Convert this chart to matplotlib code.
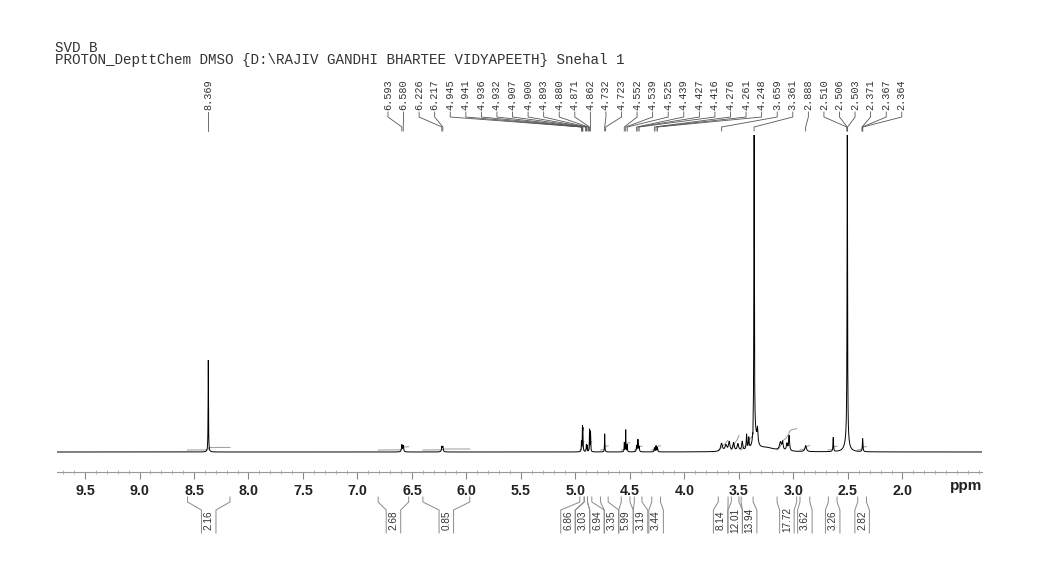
import numpy as np
import matplotlib
matplotlib.use("Agg")
import matplotlib.pyplot as plt
from matplotlib.ticker import MultipleLocator, FormatStrFormatter
from matplotlib.transforms import blended_transform_factory

# ---------------- data ----------------
header_lines = ["SVD B",
                "PROTON_DepttChem DMSO {D:\\RAJIV GANDHI BHARTEE VIDYAPEETH} Snehal 1"]

# peak-pick labels (ppm)
peak_labels = [8.369, 6.593, 6.580, 6.226, 6.217,
               4.945, 4.941, 4.936, 4.932, 4.907, 4.900, 4.893, 4.880, 4.871, 4.862,
               4.732, 4.723, 4.552, 4.539, 4.525, 4.439, 4.427, 4.416,
               4.276, 4.261, 4.248, 3.659, 3.361, 2.888,
               2.510, 2.506, 2.503, 2.371, 2.367, 2.364]

# spectrum lines: position (ppm), intensity, half width (ppm)
line_pos = [8.369, 6.593, 6.580, 6.226, 6.217,
            4.945, 4.936, 4.932, 4.900, 4.893, 4.871, 4.862,
            4.732, 4.552, 4.539, 4.525, 4.439, 4.427, 4.416,
            4.276, 4.261, 4.248,
            3.66, 3.62, 3.59, 3.55, 3.51, 3.47, 3.43, 3.41,
            3.372, 3.361, 3.35, 3.33, 3.25,
            3.12, 3.10, 3.06, 3.04, 2.888, 2.635,
            2.506, 2.51, 2.365]
line_int = [92, 7, 6, 5, 5,
            10, 22, 20, 7, 6, 22, 20,
            18, 9, 22, 7, 6, 12, 5,
            4, 6, 4,
            8, 6, 9, 8, 7, 9, 15, 11,
            -5, 320, 14, 14, 4,
            8, 8, 7, 15, 6, 14,
            320, 12, 13]
line_w = [0.002, 0.004, 0.004, 0.004, 0.004,
          0.002, 0.002, 0.002, 0.002, 0.002, 0.002, 0.002,
          0.002, 0.002, 0.002, 0.002, 0.003, 0.003, 0.003,
          0.003, 0.003, 0.003,
          0.010, 0.010, 0.008, 0.008, 0.008, 0.006, 0.004, 0.004,
          0.001, 0.0025, 0.02, 0.005, 0.10,
          0.010, 0.006, 0.006, 0.005, 0.008, 0.003,
          0.0025, 0.02, 0.003]

# integrals: start ppm, end ppm, value
int_start = [8.56, 6.81, 6.40, 4.96, 4.92, 4.89, 4.77, 4.58, 4.46, 4.30,
             3.69, 3.57, 3.48, 3.15, 2.94, 2.68, 2.41]
int_end   = [8.17, 6.53, 5.97, 4.92, 4.89, 4.85, 4.70, 4.50, 4.39, 4.22,
             3.60, 3.50, 3.37, 2.97, 2.85, 2.60, 2.33]
int_value = [2.16, 2.68, 0.85, 6.86, 3.03, 6.94, 3.35, 5.99, 3.19, 3.44,
             8.14, 12.01, 13.94, 17.72, 3.62, 3.26, 2.82]

major_ticks = [2.0, 2.5, 3.0, 3.5, 4.0, 4.5, 5.0, 5.5, 6.0, 6.5, 7.0, 7.5, 8.0, 8.5, 9.0, 9.5]

# ---------------- figure ----------------
W, H = 1048, 568
fig = plt.figure(figsize=(W / 100, H / 100), dpi=100)

ax_l, ax_r = 57, 982          # px
axis_y, top_y = 472, 135      # px
ppm_left, ppm_right = 9.757, 1.27
ax = fig.add_axes([ax_l / W, (H - axis_y) / H, (ax_r - ax_l) / W, (axis_y - top_y) / H])
ax.set_xlim(ppm_left, ppm_right)
ax.set_ylim(-20, 317)
ax.patch.set_alpha(0)

ppm = np.linspace(9.757, 1.25, 24000)
spec = np.zeros_like(ppm)
for p, a, w in zip(line_pos, line_int, line_w):
    spec += a / (1 + ((ppm - p) / w) ** 2)
ax.plot(ppm, spec, color="black", lw=0.7, zorder=3)

# integral traces
for s, e, v in zip(int_start, int_end, int_value):
    m = (ppm <= s) & (ppm >= e)
    cs = np.cumsum(np.clip(spec[m], 0, 60))
    cs = cs / cs[-1] * v * 1.2 + 2
    ax.plot(ppm[m], cs, color="#9a9a9a", lw=0.7, zorder=2)

for sp in ["left", "right", "top"]:
    ax.spines[sp].set_visible(False)
ax.spines["bottom"].set_color("#999999")
ax.spines["bottom"].set_linewidth(0.8)
ax.set_yticks([])
ax.set_xticks(major_ticks)
ax.xaxis.set_major_formatter(FormatStrFormatter("%.1f"))
ax.xaxis.set_minor_locator(MultipleLocator(0.1))
ax.tick_params(axis="x", which="major", direction="out", length=5, width=0.8,
               color="#888888", pad=3.5, labelsize=10.3, labelcolor="#222222")
ax.tick_params(axis="x", which="minor", direction="inout", length=3, width=0.6,
               color="#aaaaaa")
for t in ax.get_xticklabels():
    t.set_fontweight("bold")
    t.set_fontfamily("Liberation Sans")

# overlay in pixel coordinates
ov = fig.add_axes([0, 0, 1, 1])
ov.set_xlim(0, W)
ov.set_ylim(H, 0)
ov.axis("off")
ov.patch.set_alpha(0)
tr = blended_transform_factory(ax.transData, ov.transData)

ov.text(55, 52, header_lines[0], family="Liberation Mono", fontsize=10.3, color="#333333")
ov.text(55, 64, header_lines[1], family="Liberation Mono", fontsize=10.3, color="#333333")
ov.text(966, 486, "ppm", ha="center", va="center", family="Liberation Sans",
        fontweight="bold", fontsize=11, color="#222222")

px_per_ppm = (ax_r - ax_l) / (ppm_left - ppm_right)


def group_pos(g, gap):
    m = np.mean(g)
    n = len(g)
    return [m + ((n - 1) / 2 - i) * gap for i in range(n)]


def spread(centers, gap):
    groups = []
    for c in centers:
        groups.append([c])
        while len(groups) > 1:
            p1 = group_pos(groups[-2], gap)
            p2 = group_pos(groups[-1], gap)
            if p1[-1] - p2[0] < gap - 1e-9:
                groups[-2] = groups[-2] + groups[-1]
                groups.pop()
            else:
                break
    out = []
    for g in groups:
        out.extend(group_pos(g, gap))
    return out


# peak labels
lab_gap = 15.57 / px_per_ppm
lab_x = spread(peak_labels, lab_gap)
for p, xl in zip(peak_labels, lab_x):
    ov.text(xl, 110, f"{p:.3f}", transform=tr, rotation=90, ha="center", va="bottom",
            family="Liberation Mono", fontsize=7.4, color="#333333")
    ov.plot([xl, xl, p, p], [112, 117, 127, 131], transform=tr, color="#555555", lw=0.6)

# integral labels
int_gap = 14.5 / px_per_ppm
centers = [(s + e) / 2 for s, e in zip(int_start, int_end)]
int_x = spread(centers, int_gap)
hw = int_gap / 2
for s, e, v, c in zip(int_start, int_end, int_value, int_x):
    ov.plot([s, s, c + hw, c + hw], [497, 502, 510, 533], transform=tr, color="#8a8a8a", lw=0.7)
    ov.plot([e, e, c - hw, c - hw], [497, 502, 510, 533], transform=tr, color="#8a8a8a", lw=0.7)
    ov.text(c, 520, f"{v:.2f}", transform=tr, rotation=90, ha="center", va="center",
            family="Liberation Sans", fontsize=7.2, color="#333333")

fig.savefig("out.png", dpi=100)
